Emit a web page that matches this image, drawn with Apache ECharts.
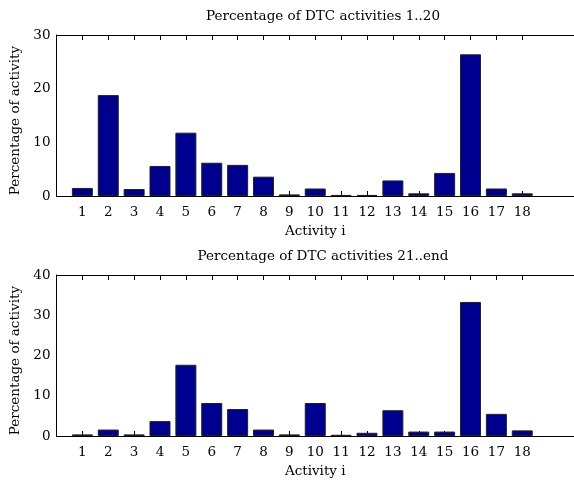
<!DOCTYPE html>
<html>
<head>
<meta charset="utf-8">
<script src="https://cdn.jsdelivr.net/npm/echarts@6/dist/echarts.min.js"></script>
<style>
  html, body { margin: 0; padding: 0; background: #fff; }
  #chart { width: 574px; height: 480px; }
</style>
</head>
<body>
<div id="chart"></div>
<script>
// Activity indices shown on the x axis
const activities = [1, 2, 3, 4, 5, 6, 7, 8, 9, 10, 11, 12, 13, 14, 15, 16, 17, 18];
// Share of each activity (%), DTC activities 1..20
const pctFirst = [1.5, 18.8, 1.3, 5.6, 11.8, 6.2, 5.8, 3.6, 0.3, 1.4, 0.2, 0.2, 2.9, 0.5, 4.3, 26.4, 1.4, 0.5];
// Share of each activity (%), DTC activities 21..end
const pctRest = [0.4, 1.6, 0.4, 3.7, 17.7, 8.2, 6.7, 1.6, 0.4, 8.2, 0.3, 0.8, 6.4, 1.1, 1.1, 33.3, 5.5, 1.4];
// Value-axis tick marks
const yTicksFirst = [0, 10, 20, 30];
const yTicksRest = [0, 10, 20, 30, 40];

const titles = ['Percentage of DTC activities 1..20', 'Percentage of DTC activities 21..end'];
const xName = 'Activity i';
const yName = 'Percentage of activity';

const FONT = 'DejaVu Serif';
const FS = 13.5;
const BAR_COLOR = '#00008f';

const chart = echarts.init(document.getElementById('chart'), null, { renderer: 'canvas' });

const panels = [
  { top: 35, values: pctFirst, ticks: yTicksFirst },
  { top: 275, values: pctRest, ticks: yTicksRest }
];

const grids = [], xAxes = [], yAxes = [], series = [], titleList = [];

panels.forEach((p, i) => {
  const yMax = p.ticks[p.ticks.length - 1];
  const yInt = p.ticks[1] - p.ticks[0];
  grids.push({ left: 56.5, right: -5.5, top: p.top, height: 161 });
  titleList.push({
    text: titles[i],
    left: 318, top: p.top - 31, textAlign: 'center',
    textStyle: { fontFamily: FONT, fontSize: FS, fontWeight: 'normal', color: '#000' }
  });
  // bottom axis with labels
  xAxes.push({
    type: 'value', gridIndex: i, position: 'bottom', min: 0, max: 20,
    name: xName, nameLocation: 'middle', nameGap: 28,
    nameTextStyle: { fontFamily: FONT, fontSize: FS, color: '#000' },
    axisLine: { show: true, lineStyle: { color: '#000', width: 1 } },
    axisTick: { show: true, inside: true, length: 5, customValues: activities, lineStyle: { color: '#000' } },
    axisLabel: { customValues: activities, margin: 9, fontFamily: FONT, fontSize: FS, color: '#000' },
    splitLine: { show: false }
  });
  // mirrored top axis, ticks only
  xAxes.push({
    type: 'value', gridIndex: i, position: 'top', min: 0, max: 20,
    axisLine: { show: true, onZero: false, lineStyle: { color: '#000', width: 1 } },
    axisTick: { show: true, inside: true, length: 5, customValues: activities, lineStyle: { color: '#000' } },
    axisLabel: { show: false },
    splitLine: { show: false }
  });
  yAxes.push({
    type: 'value', gridIndex: i, min: 0, max: yMax, interval: yInt,
    name: yName, nameLocation: 'middle', nameGap: 31,
    nameTextStyle: { fontFamily: FONT, fontSize: FS, color: '#000', padding: [0, 10, 0, 0] },
    axisLine: { show: true, lineStyle: { color: '#000', width: 1 } },
    axisTick: { show: false },
    axisLabel: { margin: 6, fontFamily: FONT, fontSize: FS, color: '#000' },
    splitLine: { show: false }
  });
  series.push({
    type: 'bar',
    xAxisIndex: i * 2, yAxisIndex: i,
    data: activities.map((a, k) => [a, p.values[k]]),
    barWidth: 21,
    itemStyle: { color: BAR_COLOR, borderColor: '#222', borderWidth: 1 },
    silent: true
  });
});

chart.setOption({
  animation: false,
  backgroundColor: '#fff',
  title: titleList,
  grid: grids,
  xAxis: xAxes,
  yAxis: yAxes,
  series: series
});
</script>
</body>
</html>
